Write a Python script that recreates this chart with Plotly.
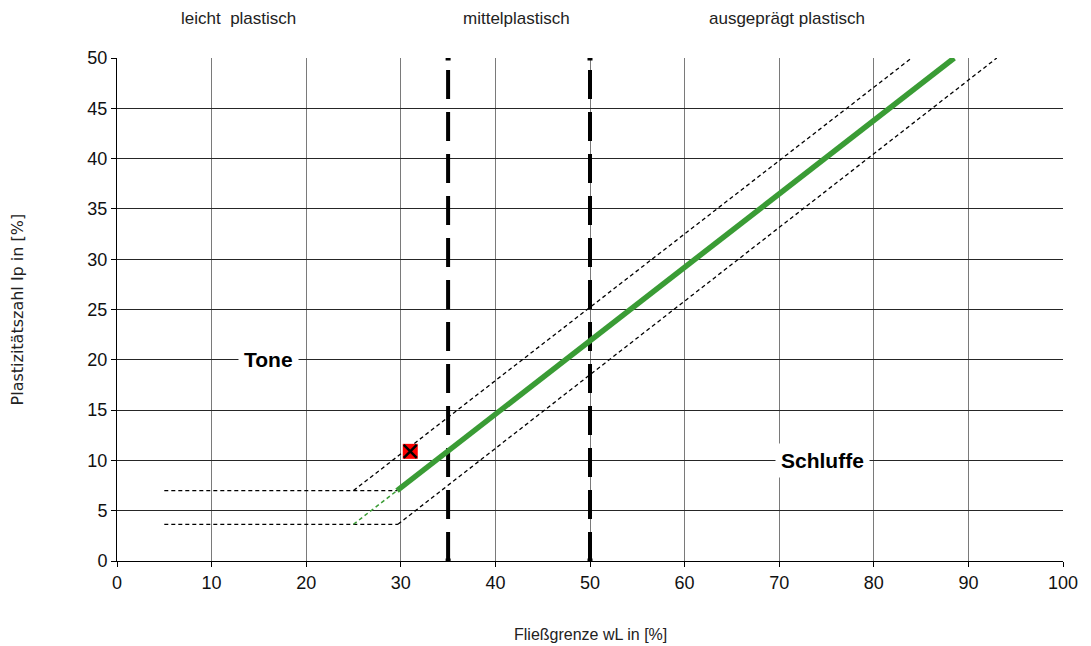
import plotly.graph_objects as go

# ---- data ----
a_line_x = [29.6, 88.5]
a_line_y = [7.0, 50.0]
a_ext_x = [25.0, 29.6]
a_ext_y = [3.65, 7.0]
upper_h_x = [5.0, 29.6]
upper_h_y = [7.0, 7.0]
upper_d_x = [25.0, 84.0]
upper_d_y = [7.0, 50.0]
lower_h_x = [5.0, 29.7]
lower_h_y = [3.65, 3.65]
lower_d_x = [29.7, 93.0]
lower_d_y = [3.65, 50.0]
bound_x = [35, 50]
bound_y = [0, 50]
sample_x = [31.0]
sample_y = [10.9]
zone_labels = ["leicht  plastisch", "mittelplastisch", "ausgeprägt plastisch"]
zone_x = [12.8, 42.2, 70.8]
soil_labels = ["Tone", "Schluffe"]
soil_x = [16.0, 74.6]
soil_y = [20.0, 10.0]
x_ticks = list(range(0, 101, 10))
y_ticks = list(range(0, 51, 5))

FONT = "Liberation Sans"

fig = go.Figure()

def dline(x, y, color="black", width=1.3, dash="4px,3px"):
    fig.add_trace(go.Scatter(x=x, y=y, mode="lines",
                             line=dict(color=color, width=width, dash=dash),
                             hoverinfo="skip", showlegend=False))

dline(upper_h_x, upper_h_y)
dline(upper_d_x, upper_d_y)
dline(lower_h_x, lower_h_y)
dline(lower_d_x, lower_d_y)
dline(a_ext_x, a_ext_y, color="#3a9c35", width=1.5)

for bx in bound_x:
    fig.add_trace(go.Scatter(x=[bx, bx], y=bound_y, mode="lines+markers",
                             line=dict(color="black", width=4, dash="29px,13px"),
                             marker=dict(symbol="square", size=5, color="black"),
                             hoverinfo="skip", showlegend=False))

fig.add_trace(go.Scatter(x=a_line_x, y=a_line_y, mode="lines",
                         line=dict(color="#3a9c35", width=5.5),
                         hoverinfo="skip", showlegend=False))

fig.add_trace(go.Scatter(x=sample_x, y=sample_y, mode="markers",
                         marker=dict(symbol="square", size=15, color="#ff0000",
                                     line=dict(width=0)),
                         hoverinfo="skip", showlegend=False))
fig.add_trace(go.Scatter(x=sample_x, y=sample_y, mode="markers",
                         marker=dict(symbol="x-thin", size=13,
                                     line=dict(width=2.5, color="black")),
                         hoverinfo="skip", showlegend=False))

for t, x in zip(zone_labels, zone_x):
    fig.add_annotation(x=x, y=1.0795, xref="x", yref="paper", text=t,
                       xanchor="center", yanchor="middle",
                       showarrow=False, font=dict(family=FONT, size=17, color="#222"))

for t, x, y in zip(soil_labels, soil_x, soil_y):
    fig.add_annotation(x=x, y=y, xref="x", yref="y", text="<b>%s</b>" % t,
                       showarrow=False, bgcolor="white", borderpad=5,
                       font=dict(family=FONT, size=21, color="black"))

fig.add_annotation(x=0.5, y=-0.147, xref="paper", yref="paper",
                   xanchor="center", yanchor="middle",
                   text="Fließgrenze wL in [%]", showarrow=False,
                   font=dict(family=FONT, size=16, color="#222"))
fig.add_annotation(x=-0.1047, y=0.5, xref="paper", yref="paper",
                   xanchor="center", yanchor="middle",
                   text="Plastizitätszahl Ip in [%]", showarrow=False, textangle=-90,
                   font=dict(family="DejaVu Sans", size=16, color="#222"))

fig.update_layout(
    width=1091, height=646,
    margin=dict(l=109, r=36, t=50, b=93),
    paper_bgcolor="white", plot_bgcolor="white",
    showlegend=False,
    xaxis=dict(range=[0, 100], tickvals=x_ticks, showgrid=True,
               gridcolor="#7a7a7a", gridwidth=1, zeroline=False,
               showline=True, linecolor="black", linewidth=1,
               ticks="outside", ticklen=5, tickcolor="black",
               tickfont=dict(family=FONT, size=18, color="#111")),
    yaxis=dict(range=[0, 50], tickvals=y_ticks, showgrid=True,
               gridcolor="#262626", gridwidth=1, zeroline=False,
               showline=True, linecolor="black", linewidth=1,
               ticks="outside", ticklen=5, tickcolor="black",
               tickfont=dict(family=FONT, size=18, color="#111")),
)

fig.write_html("out.html")
